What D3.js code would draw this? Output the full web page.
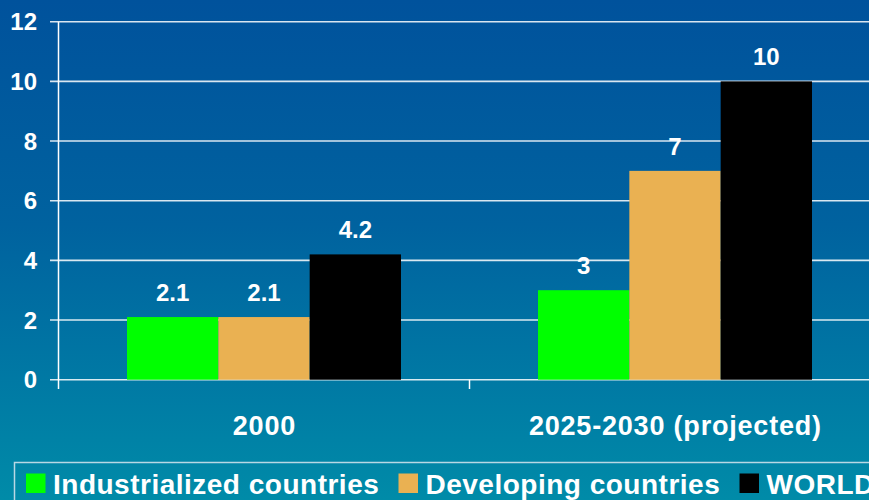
<!DOCTYPE html>
<html>
<head>
<meta charset="utf-8">
<script src="https://cdn.jsdelivr.net/npm/d3@7"></script>
<style>
  html, body { margin: 0; padding: 0; overflow: hidden; }
  text { font-family: "Liberation Sans", Arial, sans-serif; font-weight: bold; fill: #fff; }
</style>
</head>
<body>
<div id="chart"></div>
<script>
var categories = ["2000", "2025-2030 (projected)"];
var series = ["Industrialized countries", "Developing countries", "WORLD"];
var values = [
  [2.1, 2.1, 4.2],
  [3, 7, 10]
];
var valueLabels = [
  ["2.1", "2.1", "4.2"],
  ["3", "7", "10"]
];
var yTicks = [0, 2, 4, 6, 8, 10, 12];
var colors = ["#00ff00", "#eab152", "#000000"];

var width = 869, height = 500;

var svg = d3.select("#chart").append("svg")
    .attr("width", width)
    .attr("height", height);

var grad = svg.append("defs").append("linearGradient")
    .attr("id", "bg")
    .attr("x1", 0).attr("y1", 0).attr("x2", 0).attr("y2", 1);
grad.append("stop").attr("offset", "0%").attr("stop-color", "#00529c");
grad.append("stop").attr("offset", "45%").attr("stop-color", "#00629f");
grad.append("stop").attr("offset", "100%").attr("stop-color", "#008ba8");

svg.append("rect")
    .attr("width", width)
    .attr("height", height)
    .attr("fill", "url(#bg)");

var y = d3.scaleLinear()
    .domain([0, 12])
    .range([379.7, 21.7]);

var x0 = d3.scaleBand()
    .domain(categories)
    .range([58.5, 880.5]);

var x1 = d3.scaleBand()
    .domain(series)
    .range([68.5, x0.bandwidth() - 68.5]);

// gridlines + left tick marks
var grid = svg.append("g");
grid.selectAll("line")
    .data(yTicks)
    .enter().append("line")
    .attr("x1", 50)
    .attr("x2", width)
    .attr("y1", function(d) { return y(d); })
    .attr("y2", function(d) { return y(d); })
    .attr("stroke", "#fff")
    .attr("stroke-opacity", 0.85)
    .attr("stroke-width", 1.6);

grid.selectAll("text")
    .data(yTicks)
    .enter().append("text")
    .attr("x", 37)
    .attr("y", function(d) { return y(d); })
    .attr("dy", "0.36em")
    .attr("text-anchor", "end")
    .style("font-size", "24px")
    .text(function(d) { return d; });

// bars
var groups = svg.append("g").selectAll("g")
    .data(values)
    .enter().append("g")
    .attr("transform", function(d, i) { return "translate(" + x0(categories[i]) + ",0)"; });

groups.selectAll("rect")
    .data(function(d) { return d; })
    .enter().append("rect")
    .attr("x", function(d, j) { return x1(series[j]); })
    .attr("width", x1.bandwidth())
    .attr("y", function(d) { return y(d); })
    .attr("height", function(d) { return y(0) - y(d); })
    .attr("fill", function(d, j) { return colors[j]; });

groups.selectAll("text")
    .data(function(d, i) { return d.map(function(v, j) { return {v: v, label: valueLabels[i][j]}; }); })
    .enter().append("text")
    .attr("x", function(d, j) { return x1(series[j]) + x1.bandwidth() / 2; })
    .attr("y", function(d) { return y(d.v) - 16; })
    .attr("text-anchor", "middle")
    .style("font-size", "24px")
    .text(function(d) { return d.label; });

// y axis line
svg.append("line")
    .attr("x1", 58.5).attr("x2", 58.5)
    .attr("y1", y(12)).attr("y2", 389)
    .attr("stroke", "#fff")
    .attr("stroke-width", 1.5);

// x axis ticks between categories
svg.append("g").selectAll("line")
    .data(categories.slice(1))
    .enter().append("line")
    .attr("x1", function(d) { return x0(d); })
    .attr("x2", function(d) { return x0(d); })
    .attr("y1", y(0))
    .attr("y2", 389)
    .attr("stroke", "#fff")
    .attr("stroke-width", 1.5);

// category labels
svg.append("g").selectAll("text")
    .data(categories)
    .enter().append("text")
    .attr("x", function(d) { return x0(d) + x0.bandwidth() / 2 + 0.4; })
    .attr("y", 435)
    .attr("text-anchor", "middle")
    .style("font-size", "27px")
    .style("letter-spacing", "0.8px")
    .text(function(d) { return d; });

// legend
var legend = svg.append("g");
legend.append("rect")
    .attr("x", 14.5)
    .attr("y", 462.5)
    .attr("width", 900)
    .attr("height", 60)
    .attr("fill", "none")
    .attr("stroke", "#b8d8e4")
    .attr("stroke-width", 1.5);

var legendX = [26, 398.5, 739.5];
var item = legend.selectAll("g")
    .data(series)
    .enter().append("g")
    .attr("transform", function(d, i) { return "translate(" + legendX[i] + ",473.5)"; });

item.append("rect")
    .attr("width", 19.5)
    .attr("height", 19.5)
    .attr("fill", function(d, i) { return colors[i]; });

item.append("text")
    .attr("x", 27)
    .attr("y", 20)
    .style("font-size", "28px")
    .style("letter-spacing", "0.5px")
    .text(function(d) { return d; });
</script>
</body>
</html>
